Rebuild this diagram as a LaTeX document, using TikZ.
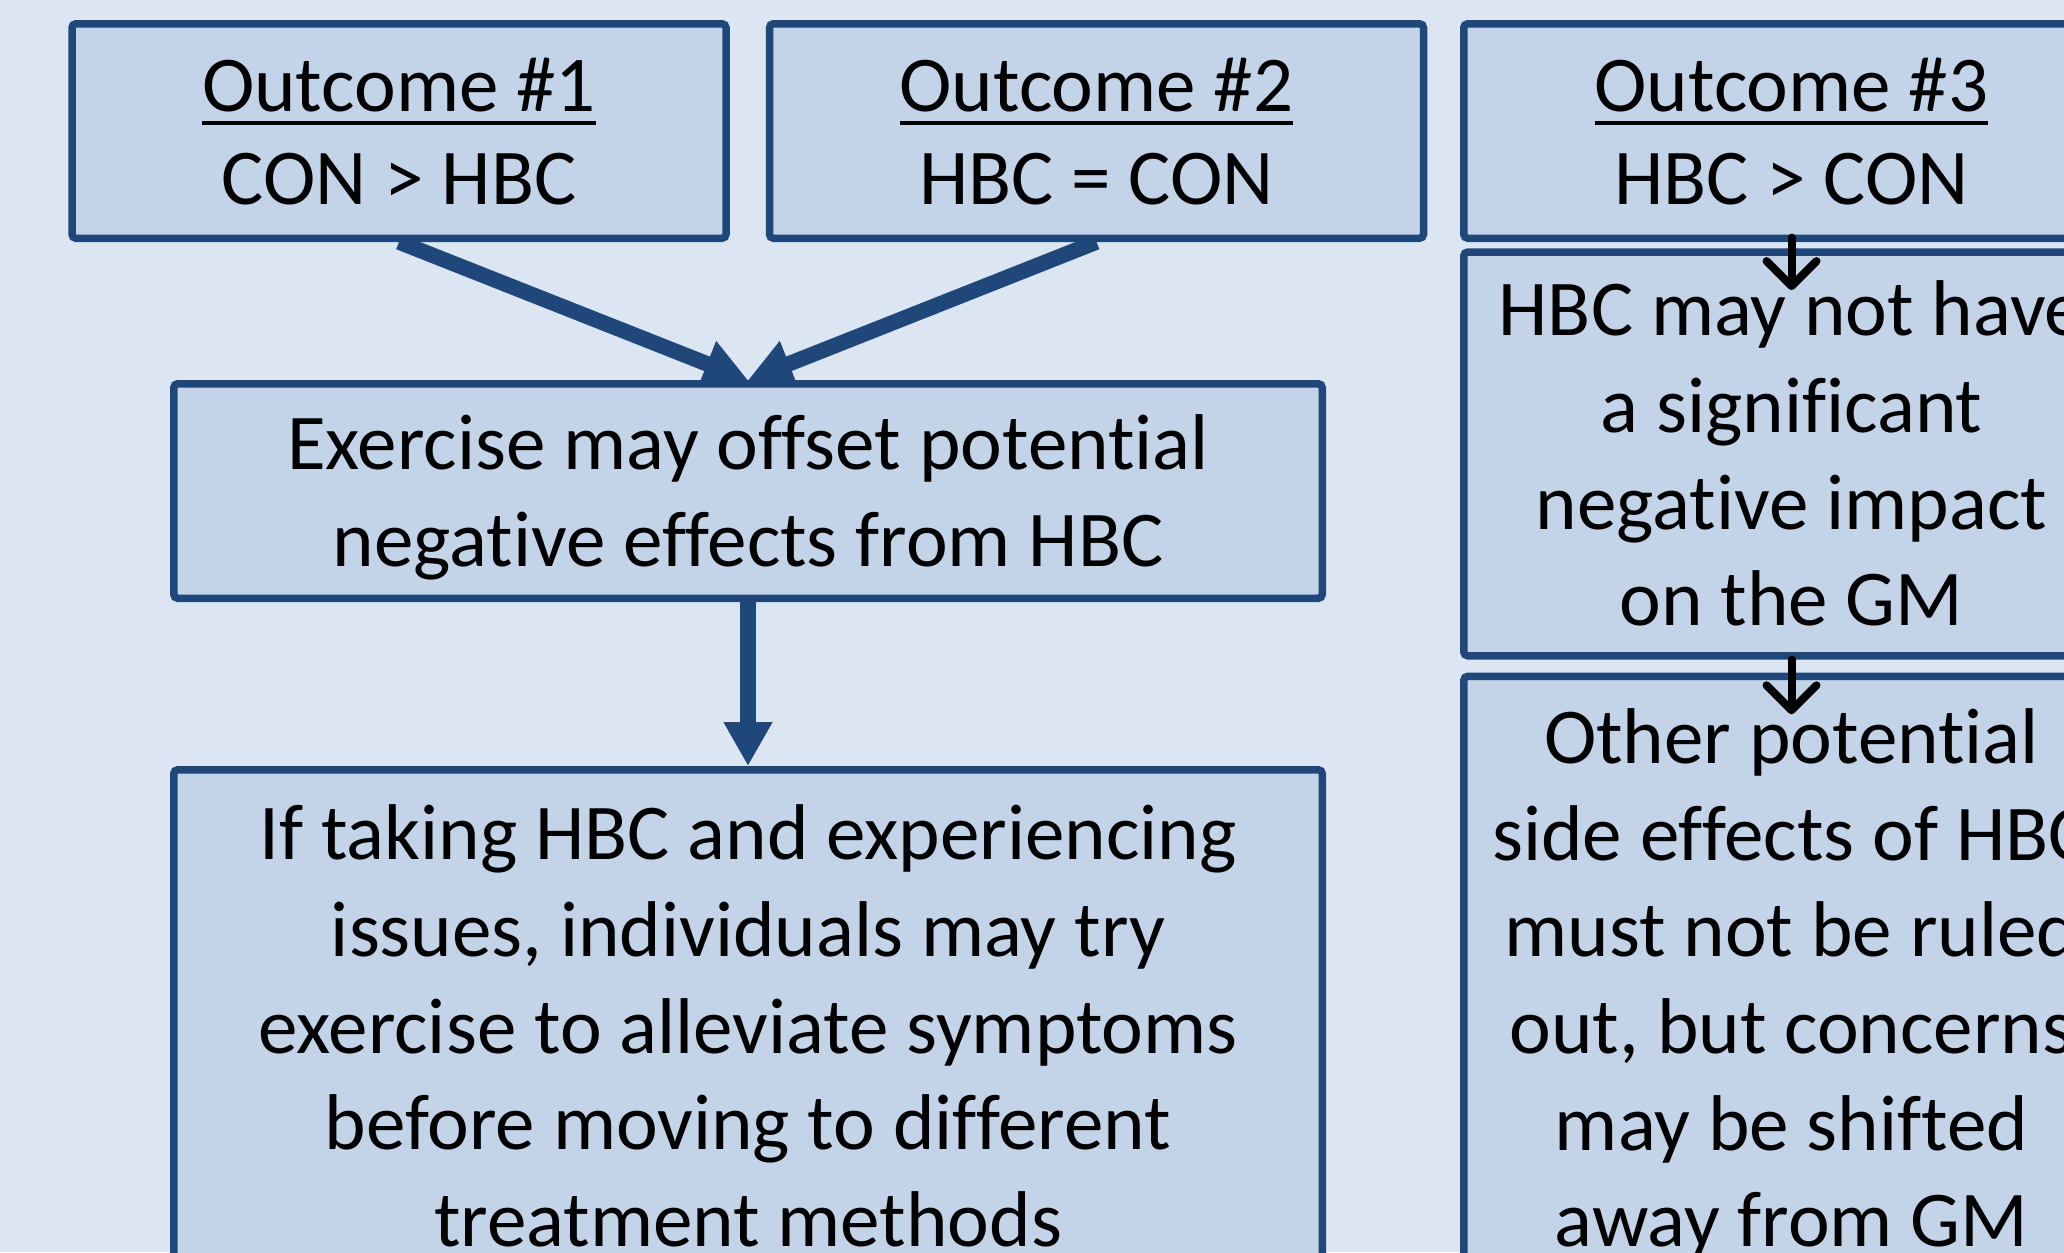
\documentclass[tikz,border=0pt]{standalone}
\usepackage{fontspec}
\setmainfont{Carlito}[Ligatures=NoCommon]
\usetikzlibrary{arrows.meta,backgrounds}

\definecolor{pagebg}{HTML}{DCE6F2}
\definecolor{panelfill}{HTML}{C4D4E8}
\definecolor{panelline}{HTML}{1F477A}

% fixed line box on the first and last line, so every panel centres alike
\newcommand{\linestrut}{\rule[-0.269em]{0pt}{1.221em}}

\tikzset{
  panel/.style     = {shape=rectangle, draw=panelline, fill=panelfill,
                      line width=0.75mm, rounded corners=0.4mm,
                      align=center, inner sep=0pt,
                      font=\fontsize{22.5}{27.5}\selectfont},
  outcome/.style   = {panel, minimum width=65.4mm, minimum height=21.45mm},
  result/.style    = {panel, minimum width=114.85mm},
  note/.style      = {panel, minimum width=65.55mm},
  mainarrow/.style = {draw=panelline, line width=1.55mm,
                      -{Triangle[length=4.4mm,width=4.6mm]}},
  sidearrow/.style = {draw=black, line width=0.8mm, line cap=round,
                      -{Straight Barb[length=2.5mm,width=5mm,round]}}
}
% underlined heading line of an outcome box
\newcommand{\outcomehead}[1]{\setbox0=\hbox{#1}\rlap{\rule[-3.8pt]{\wd0}{1.3pt}}\box0}

\begin{document}
\begin{tikzpicture}
  \useasboundingbox (0,0) rectangle (20.64,-12.52);

  % outcomes
  \node [outcome] (o1) at (3.99,-1.31)
    {\linestrut\outcomehead{Outcome \#1}\\[-1.2pt]CON > HBC\linestrut};
  \node [outcome] (o2) at (10.965,-1.31)
    {\linestrut\outcomehead{Outcome \#2}\\[-1.2pt]HBC = CON\linestrut};
  \node [outcome, minimum width=65.55mm] (o3) at (17.915,-1.31)
    {\linestrut\outcomehead{Outcome \#3}\\[-1.2pt]HBC > CON\linestrut};

  % left column
  \node [result, minimum height=21.45mm] (ex) at (7.48,-4.91)
    {\linestrut Exercise may offset potential\\negative effects from HBC\linestrut};
  \node [result, minimum height=51.25mm] (try) at (7.48,-10.26)
    {\linestrut If taking HBC and experiencing\\issues, individuals may try\\exercise to alleviate symptoms\\before moving to different\\treatment methods\linestrut};

  % right column
  \node [note, minimum height=40.37mm] (gm) at (17.915,-4.539)
    {\linestrut HBC may not have\\a significant\\negative impact\\on the GM\linestrut};
  \node [note, minimum height=60.33mm] (other) at (17.915,-9.78)
    {\linestrut Other potential\\side effects of HBC\\must not be ruled\\out, but concerns\\may be shifted\\away from GM\linestrut};

  \begin{scope}[on background layer]
    \fill [pagebg] (0,0) rectangle (20.64,-12.52);
    \draw [mainarrow] (o1.south) -- (ex.north);
    \draw [mainarrow] (o2.south) -- (ex.north);
    \draw [mainarrow] (ex.south) -- (try.north);
  \end{scope}

  \draw [sidearrow, shorten <=-0.44mm, shorten >=-4.18mm] (o3.south) -- (gm.north);
  \draw [sidearrow, shorten >=-4.17mm] (gm.south) -- (other.north);
\end{tikzpicture}
\end{document}
